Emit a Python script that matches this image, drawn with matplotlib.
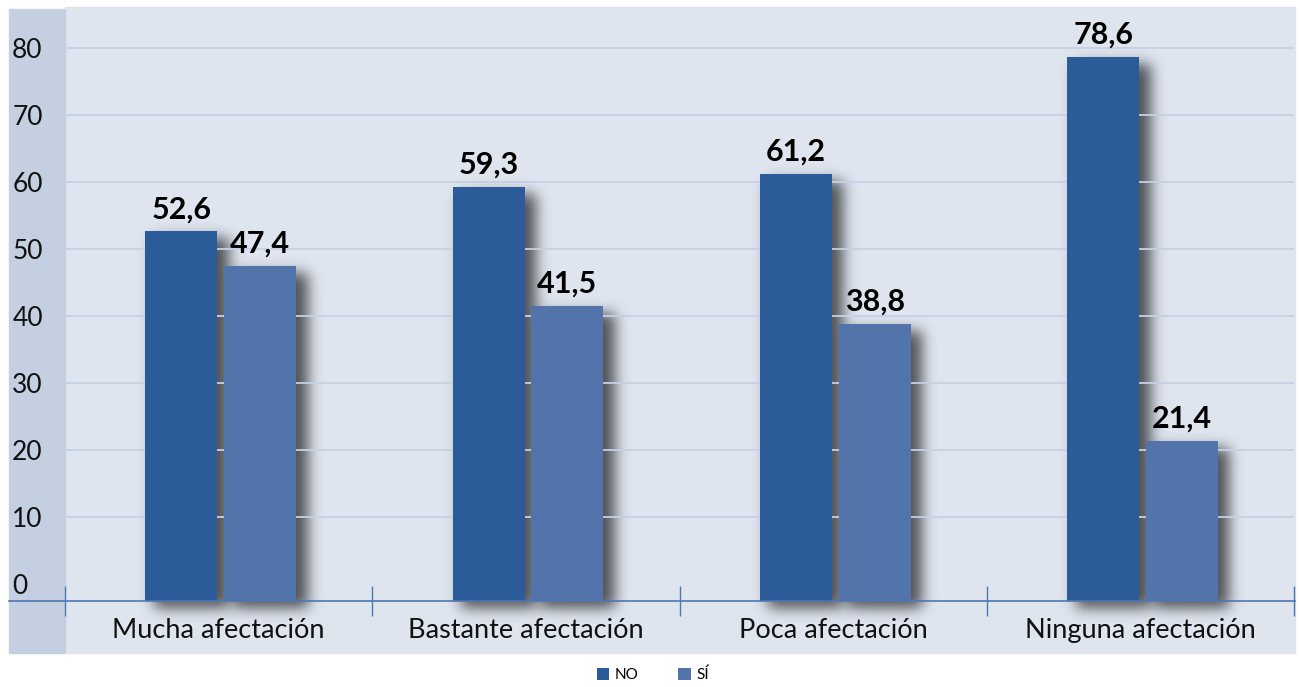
import numpy as np
import matplotlib
matplotlib.use("Agg")
import matplotlib.pyplot as plt
from matplotlib.patches import Rectangle
from matplotlib.lines import Line2D
from matplotlib.transforms import offset_copy

# datos
categorias = ["Mucha afectación", "Bastante afectación", "Poca afectación", "Ninguna afectación"]
valores_no = [52.6, 59.3, 61.2, 78.6]
valores_si = [47.4, 41.5, 38.8, 21.4]
series = ["NO", "SÍ"]
yticks = [0, 10, 20, 30, 40, 50, 60, 70, 80]

c_no = "#2C5B99"
c_si = "#5374AA"
bg = "#DFE5EF"
panel = "#C4CFE1"
grid_c = "#C6D0E5"
axis_c = "#4F77B0"

plt.rcParams["font.family"] = ["Lato", "DejaVu Sans"]

W, H = 1300, 687
fig = plt.figure(figsize=(W / 100, H / 100), dpi=100)

# fondos
fig.patches.append(Rectangle((65 / W, 1 - 653 / H), (1295 - 65) / W, (653 - 7) / H,
                             transform=fig.transFigure, color=bg, zorder=-2))
fig.patches.append(Rectangle((9 / W, 1 - 653 / H), (65 - 9) / W, (653 - 9) / H,
                             transform=fig.transFigure, color=panel, zorder=-2))

ax = fig.add_axes([65 / W, 1 - 601 / H, (1294 - 65) / W, (601 - 7) / H])
ax.set_facecolor("none")

ymin, ymax = -2.54, 86.1
ax.set_ylim(ymin, ymax)
ax.set_xlim(-0.5 + (65 - 62) / 308, len(categorias) - 0.5)

x = np.arange(len(categorias)) + 0.007
w = 0.234
off = 0.128


def blur_filter(sigma, alpha=0.65):
    def f(im, dpi):
        pad = int(3 * sigma) + 2
        ny, nx, _ = im.shape
        a = np.zeros((ny + 2 * pad, nx + 2 * pad))
        a[pad:-pad, pad:-pad] = im[:, :, 3]
        k = np.exp(-0.5 * (np.arange(-pad, pad + 1) / sigma) ** 2)
        k /= k.sum()
        a = np.apply_along_axis(np.convolve, 0, a, k, mode="same")
        a = np.apply_along_axis(np.convolve, 1, a, k, mode="same")
        out = np.zeros((a.shape[0], a.shape[1], 4))
        out[:, :, 3] = np.clip(a * alpha, 0, 1)
        return out, -pad, -pad
    return f


# sombras
shadow_tr = offset_copy(ax.transData, fig=fig, x=10, y=-7, units="dots")
for xs, vals in [(x - off, valores_no), (x + off, valores_si)]:
    sb = ax.bar(xs, [v - ymin for v in vals], w + 0.01, bottom=ymin, color="black",
                transform=shadow_tr, zorder=1, clip_on=False)
    for p in sb:
        p.set_agg_filter(blur_filter(7))

b1 = ax.bar(x - off, [v - ymin for v in valores_no], w, bottom=ymin, color=c_no,
            zorder=3, label=series[0])
b2 = ax.bar(x + off, [v - ymin for v in valores_si], w, bottom=ymin, color=c_si,
            zorder=3, label=series[1])

for xs, vals in [(x - off, valores_no), (x + off, valores_si)]:
    for xi, v in zip(xs, vals):
        ax.annotate(f"{v:.1f}".replace(".", ","), (xi, v), xytext=(0, 6),
                    textcoords="offset points", ha="center", va="bottom",
                    fontsize=22, fontweight="bold", color="black", zorder=4)

# rejilla
ax.set_yticks(yticks)
ax.set_yticklabels([str(t) for t in yticks])
for t in yticks[1:]:
    ax.axhline(t, color=grid_c, lw=1.3, zorder=2)
ax.tick_params(axis="y", length=0, pad=38, labelsize=19, labelcolor="#111111")
for lab in ax.get_yticklabels():
    lab.set_horizontalalignment("left")

ax.set_xticks(np.arange(len(categorias)))
ax.set_xticklabels(categorias)
ax.set_xticks(np.arange(len(categorias) + 1) - 0.5, minor=True)
ax.tick_params(axis="x", which="major", length=0, pad=12, labelsize=19.5,
               labelcolor="#111111")
ax.tick_params(axis="x", which="minor", length=22, width=1, direction="inout",
               color=axis_c)

for s in ["top", "right", "left", "bottom"]:
    ax.spines[s].set_visible(False)

fig.lines.append(Line2D([9 / W, 1295 / W], [1 - 601 / H, 1 - 601 / H],
                        transform=fig.transFigure, color=axis_c, lw=1.2, zorder=5))

fig.legend(handles=[b1, b2], labels=series, loc="center", ncol=2,
           bbox_to_anchor=(653 / W, 1 - 675 / H), frameon=False, fontsize=11,
           handlelength=0.8, handleheight=0.9, handletextpad=0.4,
           columnspacing=2.6, borderpad=0)

fig.savefig("out.png", dpi=100, facecolor="white")
